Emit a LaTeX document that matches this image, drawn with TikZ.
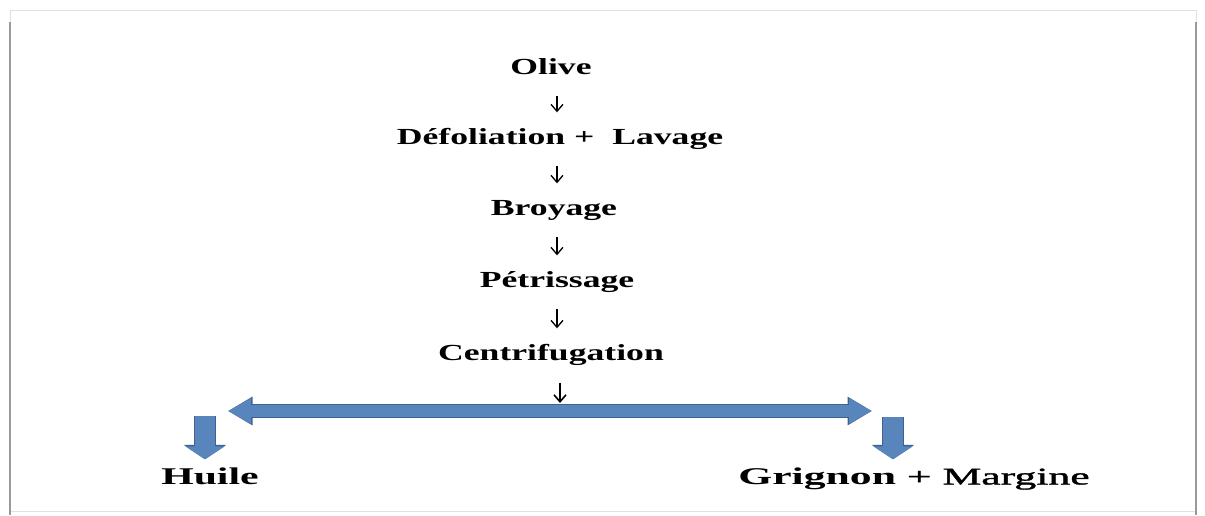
\documentclass[tikz,border=0pt]{standalone}
\usepackage{fontspec}
\setmainfont{Liberation Serif}
\newfontfamily\medserif[FakeBold=1.2]{Liberation Serif}
\usetikzlibrary{arrows.meta}
\definecolor{blockblue}{RGB}{88,133,187}
\definecolor{blockedge}{RGB}{62,98,142}
\newcommand{\wide}[2][1.55]{\scalebox{#1}[1]{#2}}

\begin{document}
\begin{tikzpicture}
	[x=1pt,y=-1pt,every node/.style={inner sep=0pt,
	text height=16pt,text depth=5pt,
	font=\fontsize{23}{27}\selectfont\bfseries},
	big/.style={font=\fontsize{24}{28}\selectfont\bfseries,text height=16pt},
	stepline/.style={-{Straight Barb[length=7pt,width=12pt]},line width=1.3pt,
	shorten <=16pt,shorten >=16pt},
	splitline/.style={{Triangle[length=23pt,width=24pt]}-{Triangle[length=23pt,width=24pt]},
	line width=12pt,draw=blockblue,
	preaction={draw=blockedge,line width=14pt,
	{Triangle[length=24.5pt,width=27pt]}-{Triangle[length=24.5pt,width=27pt]}}},
	outline/.style={-{Triangle[length=13pt,width=39pt]},line width=20pt,
	draw=blockblue,shorten >=9pt,
	preaction={draw=blockedge,line width=22pt,-{Triangle[length=14.5pt,width=42pt]}}}]
	\useasboundingbox (0,0) rectangle (1205,515);

	% frame
	\draw[black!12] (10,10) rectangle (1196,511);
	\draw[black!40,line width=2.5pt] (10,22) -- (10,515);
	\draw[black!40,line width=2.5pt] (1196,22) -- (1196,515);

	\node (olive)  at (551,69)  {\wide{Olive}};
	\node (defol)  at (560,139) {\wide{Défoliation +\ \ Lavage}};
	\node (broy)   at (554,210) {\wide{Broyage}};
	\node (petri)  at (557,282) {\wide{Pétrissage}};
	\node (centri) at (551,355) {\wide{Centrifugation}};

	\node[big] (huile)   at (210,479) {\wide[1.74]{Huile}};
	\node[big] (residus) at (914,479) {\wide[1.82]{Grignon \mdseries\medserif+ Margine}};

	\coordinate (split)  at (560,405);
	\coordinate (splitl) at (228,411);
	\coordinate (splitr) at (872,411);
	\coordinate (outl)   at (205,416);
	\coordinate (outr)   at (893,417);

	\foreach \from/\to in {olive/defol,defol/broy,broy/petri,petri/centri}
	\draw[stepline] (\from.south -| 557,0) -- (\to.north -| 557,0);

	\draw[stepline,line width=1.6pt,shorten >=2pt,shorten <=17pt] (centri.south -| split) -- (split);

	\draw[splitline] (splitl) -- (splitr);

	\draw[outline] (outl) -- (outl |- huile.north);
	\draw[outline] (outr) -- (outr |- residus.north);
\end{tikzpicture}
\end{document}
